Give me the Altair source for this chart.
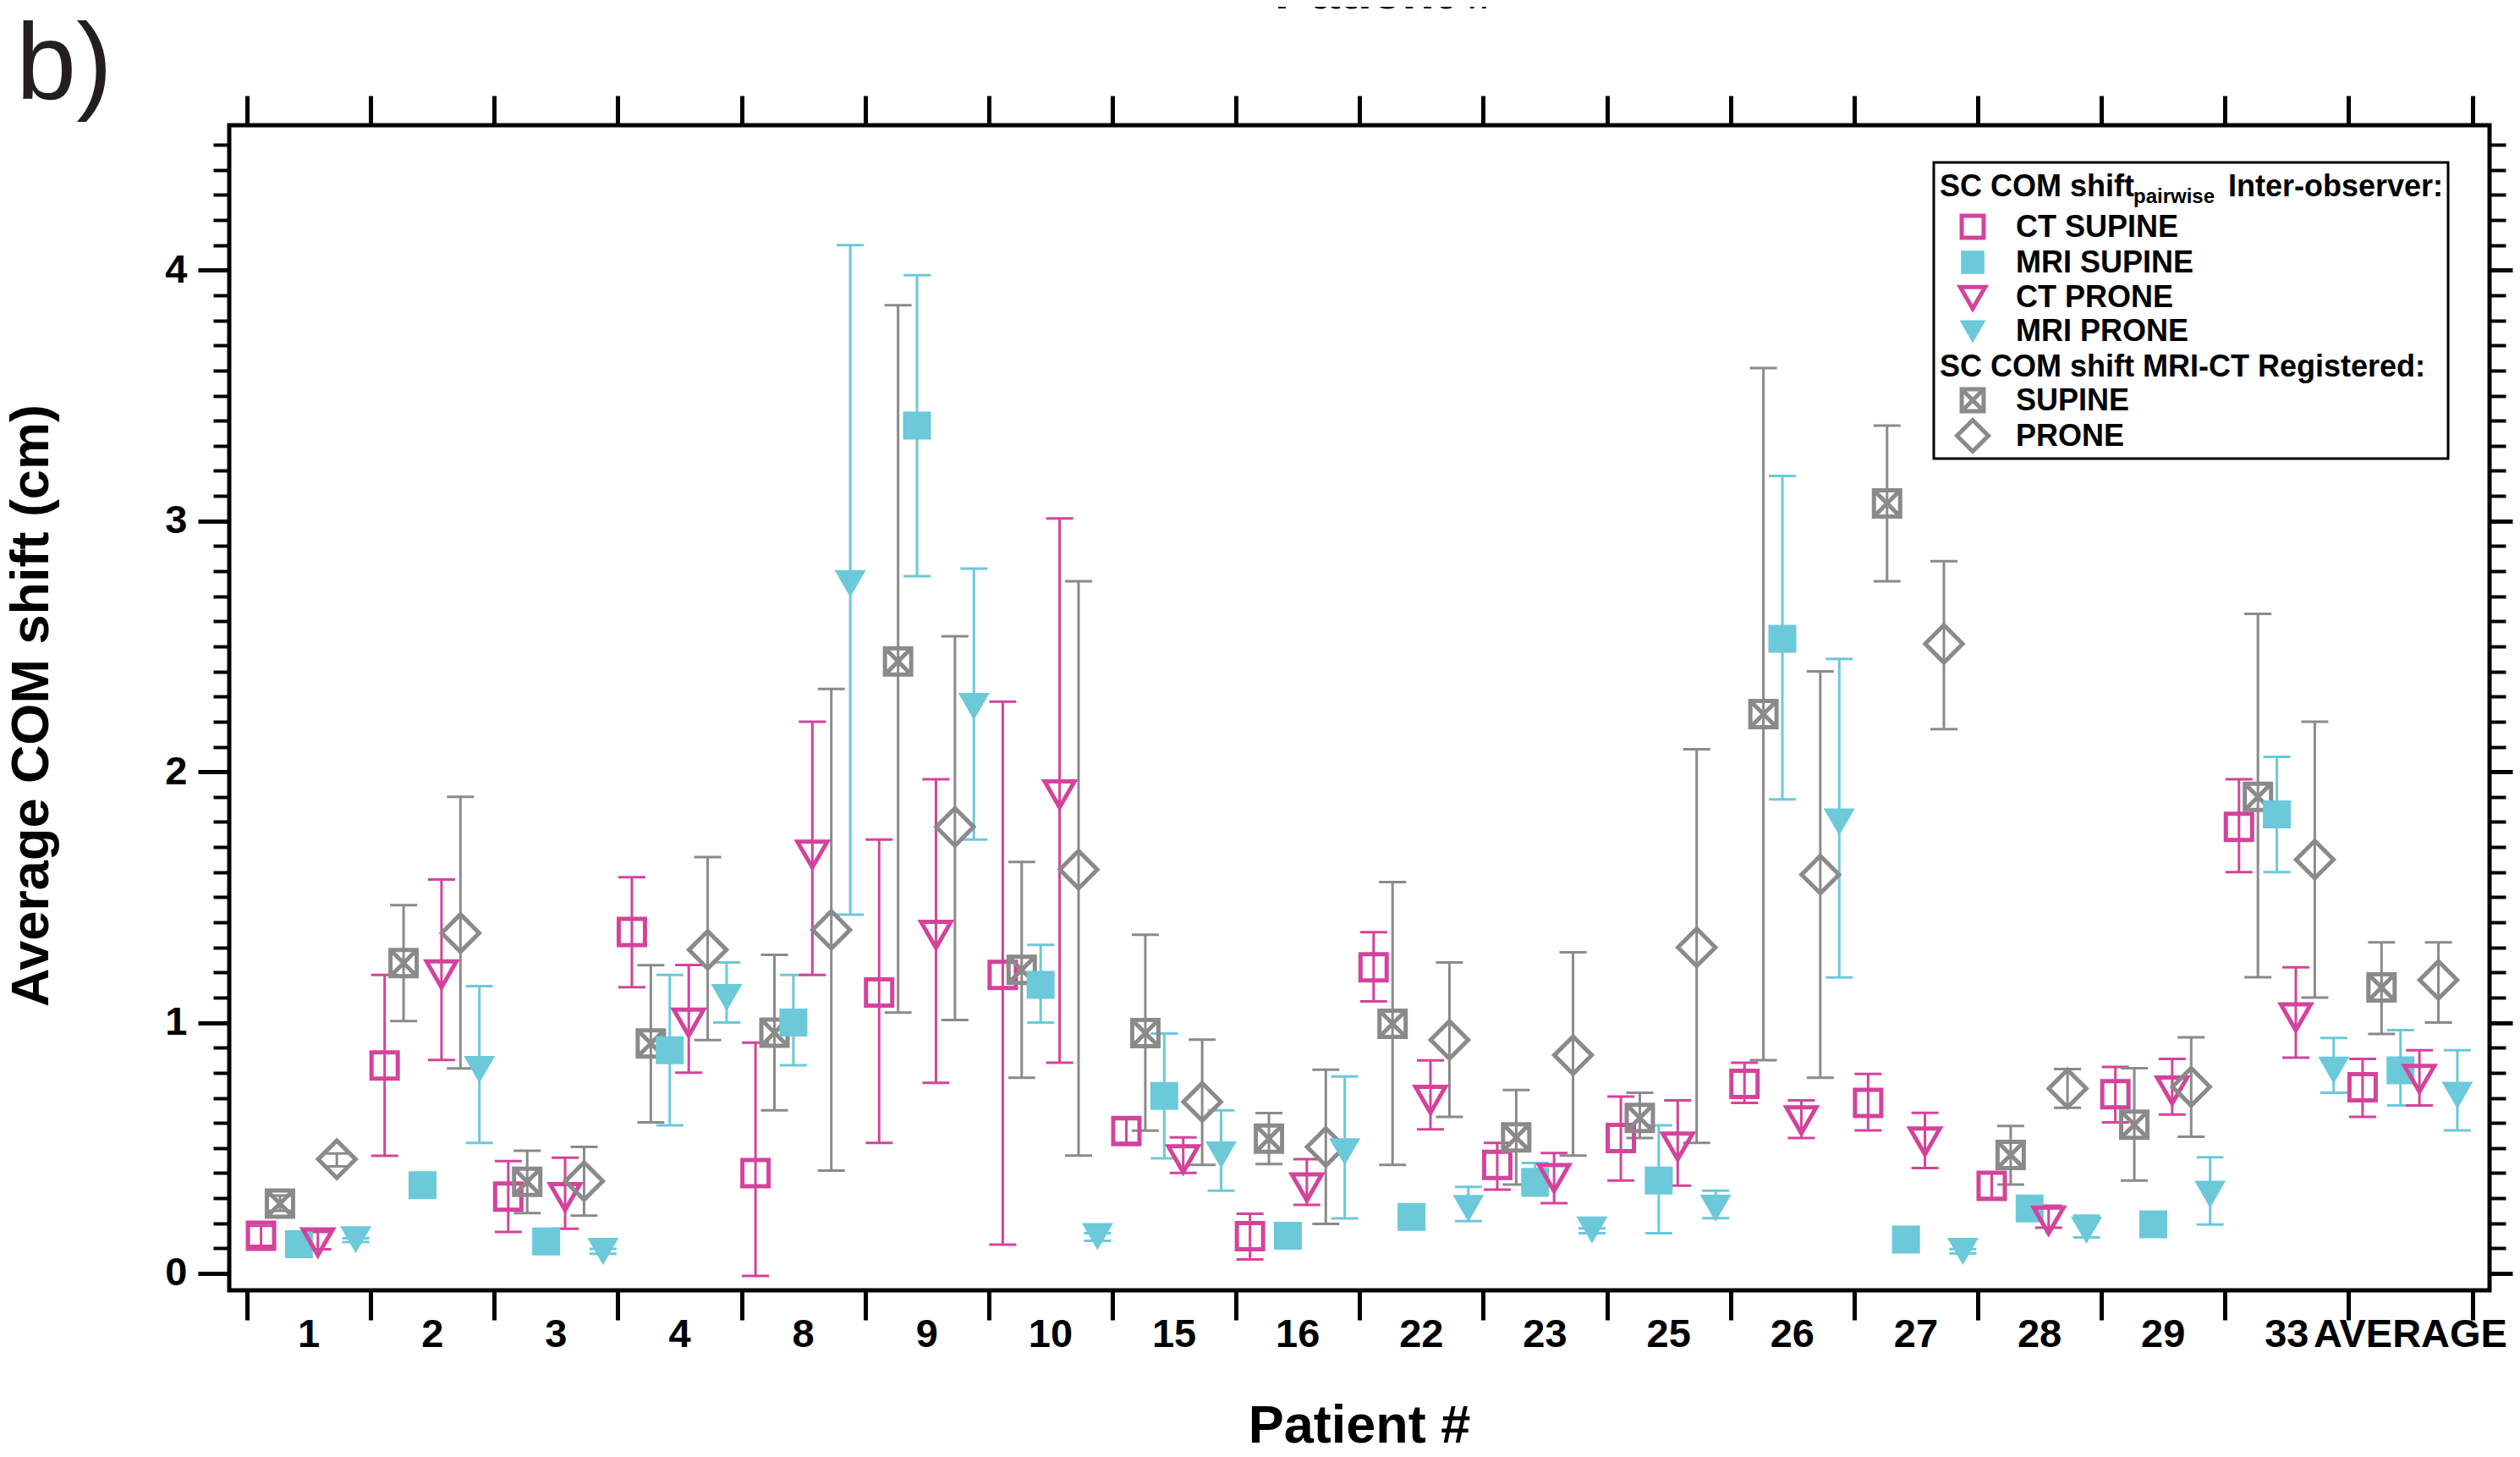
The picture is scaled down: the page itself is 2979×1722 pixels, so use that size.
import altair as alt
import pandas as pd

# ---------------- data ----------------
patients = ["1", "2", "3", "4", "8", "9", "10", "15", "16", "22", "23", "25",
            "26", "27", "28", "29", "33", "AVERAGE"]

# Inter-observer, CT SUPINE
ct_supine    = [0.150, 0.829, 0.306, 1.361, 0.40, 1.12, 1.19, 0.568, 0.148, 1.22, 0.433, 0.54, 0.756, 0.68, 0.349, 0.714, 1.78, 0.742]
ct_supine_lo = [0.11, 0.469, 0.165, 1.141, -0.01, 0.52, 0.115, 0.52, 0.056, 1.085, 0.334, 0.37, 0.68, 0.57, 0.30, 0.602, 1.60, 0.624]
ct_supine_hi = [0.19, 1.19, 0.448, 1.58, 0.92, 1.73, 2.28, 0.615, 0.238, 1.36, 0.520, 0.705, 0.84, 0.795, 0.40, 0.823, 1.97, 0.855]

# MRI-CT registered, SUPINE
reg_supine    = [0.278, 1.237, 0.365, 0.917, 0.96, 2.44, 1.21, 0.958, 0.537, 0.995, 0.542, 0.62, 2.23, 3.07, 0.472, 0.593, 1.90, 1.14]
reg_supine_lo = [0.25, 1.006, 0.240, 0.602, 0.65, 1.04, 0.78, 0.569, 0.436, 0.433, 0.354, 0.54, 0.85, 2.76, 0.354, 0.370, 1.181, 0.955]
reg_supine_hi = [0.31, 1.468, 0.489, 1.229, 1.27, 3.86, 1.64, 1.35, 0.639, 1.56, 0.731, 0.72, 3.61, 3.38, 0.588, 0.818, 2.63, 1.32]

# Inter-observer, MRI SUPINE (None = no error bar drawn)
mri_supine    = [0.116, 0.352, 0.127, 0.89, 1.0, 3.38, 1.15, 0.708, 0.150, 0.225, 0.365, 0.37, 2.53, 0.135, 0.259, 0.196, 1.83, 0.81]
mri_supine_lo = [None, None, None, 0.59, 0.83, 2.78, 1.0, 0.459, None, None, 0.31, 0.16, 1.89, None, None, None, 1.60, 0.67]
mri_supine_hi = [None, None, None, 1.19, 1.19, 3.98, 1.31, 0.956, None, None, 0.44, 0.59, 3.18, None, None, None, 2.06, 0.97]

# Inter-observer, CT PRONE
ct_prone    = [0.124, 1.192, 0.304, 1.0, 1.67, 1.35, 1.91, 0.455, 0.343, 0.692, 0.38, 0.506, 0.61, 0.526, 0.211, 0.729, 1.021, 0.776]
ct_prone_lo = [0.096, 0.851, 0.178, 0.80, 1.19, 0.76, 0.84, 0.401, 0.273, 0.574, 0.28, 0.35, 0.54, 0.42, 0.182, 0.633, 0.860, 0.67]
ct_prone_hi = [0.165, 1.57, 0.461, 1.23, 2.20, 1.97, 3.01, 0.542, 0.455, 0.849, 0.48, 0.69, 0.69, 0.64, 0.27, 0.855, 1.220, 0.89]

# MRI-CT registered, PRONE
reg_prone    = [0.455, 1.357, 0.368, 1.29, 1.37, 1.78, 1.61, 0.684, 0.504, 0.931, 0.87, 1.30, 1.59, 2.51, 0.737, 0.744, 1.65, 1.17]
reg_prone_lo = [0.427, 0.817, 0.230, 0.93, 0.41, 1.01, 0.47, 0.433, 0.197, 0.624, 0.47, 0.52, 0.78, 2.17, 0.660, 0.545, 1.10, 1.0]
reg_prone_hi = [0.478, 1.90, 0.504, 1.66, 2.33, 2.54, 2.76, 0.932, 0.812, 1.24, 1.28, 2.09, 2.40, 2.84, 0.815, 0.941, 2.20, 1.32]

# Inter-observer, MRI PRONE
mri_prone    = [0.134, 0.813, 0.088, 1.10, 2.75, 2.26, 0.147, 0.472, 0.485, 0.259, 0.173, 0.26, 1.80, 0.088, 0.172, 0.315, 0.810, 0.71]
mri_prone_lo = [0.125, 0.520, 0.078, 1.0, 1.43, 1.73, 0.13, 0.330, 0.219, 0.208, 0.16, 0.22, 1.18, 0.079, 0.143, 0.195, 0.720, 0.57]
mri_prone_hi = [0.14, 1.145, 0.098, 1.24, 4.10, 2.81, 0.16, 0.650, 0.785, 0.345, 0.18, 0.33, 2.45, 0.097, 0.230, 0.463, 0.939, 0.89]

y_major = [0, 1, 2, 3, 4]
y_minor = [round(i * 0.1, 1) for i in range(46)]

# ---------------- styling ----------------
PINK = "#d4439b"
CYAN = "#6bc9da"
GRAY = "#8a8a8a"
FONT = "Liberation Sans"
XBOX = "M-1,-1L1,-1L1,1L-1,1Z M-1,-1L1,1 M1,-1L-1,1"
SW = 5  # stroke width of hollow markers

W, H = 2672, 1377
SLOT0, SLOT_STEP = 0.113, 0.1533

series = [
    # name, values, lo, hi, color, shape, size, filled, slot
    ("CT SUPINE", ct_supine, ct_supine_lo, ct_supine_hi, PINK, "square", 961, False, 0),
    ("SUPINE", reg_supine, reg_supine_lo, reg_supine_hi, GRAY, XBOX, 961, False, 1),
    ("MRI SUPINE", mri_supine, mri_supine_lo, mri_supine_hi, CYAN, "square", 1089, True, 2),
    ("CT PRONE", ct_prone, ct_prone_lo, ct_prone_hi, PINK, "triangle-down", 1250, False, 3),
    ("PRONE", reg_prone, reg_prone_lo, reg_prone_hi, GRAY, "diamond", 1960, False, 4),
    ("MRI PRONE", mri_prone, mri_prone_lo, mri_prone_hi, CYAN, "triangle-down", 1370, True, 5),
]

xscale = alt.Scale(domain=[-0.144, 18.14], nice=False, zero=False)
yscale = alt.Scale(domain=[-0.0675, 4.578], nice=False, zero=False)

rows = []
for name, vals, lo, hi, color, shape, size, filled, slot in series:
    for g, p in enumerate(patients):
        rows.append({
            "series": name, "patient": p,
            "xpos": g + SLOT0 + SLOT_STEP * slot,
            "value": vals[g], "lo": lo[g], "hi": hi[g],
        })
df = pd.DataFrame(rows)

xdef = lambda f: alt.X(f, type="quantitative", scale=xscale, axis=None)
ydef = lambda f: alt.Y(f, type="quantitative", scale=yscale, axis=None)

layers = []

# axes carrier layers
ax_common = dict(grid=False, title=None, domain=False, tickColor="black", tickWidth=5)
axis_df = pd.DataFrame({"xb": list(range(19)) + [None] * (46 - 19), "v": y_minor})

base_axes = alt.Chart(axis_df).mark_point(opacity=0)
layers.append(base_axes.encode(
    x=alt.X("xb:Q", scale=xscale, axis=alt.Axis(orient="bottom", values=list(range(19)), labels=False, tickSize=35, **ax_common)),
    y=alt.Y("v:Q", scale=yscale, axis=alt.Axis(orient="left", values=y_major, tickSize=37, labelFont=FONT,
                                                labelFontSize=47, labelFontWeight="bold", labelColor="black",
                                                labelPadding=13, format="d", **ax_common)),
))
layers.append(base_axes.encode(
    x=alt.X("xb:Q", scale=xscale, axis=alt.Axis(orient="top", values=list(range(19)), labels=False, tickSize=35, **ax_common)),
    y=alt.Y("v:Q", scale=yscale, axis=alt.Axis(orient="left", values=y_minor, labels=False, tickSize=19,
                                                grid=False, title=None, domain=False, tickColor="black", tickWidth=4)),
))
layers.append(base_axes.encode(
    x=xdef("xb"),
    y=alt.Y("v:Q", scale=yscale, axis=alt.Axis(orient="right", values=y_major, labels=False, tickSize=27, **ax_common)),
))
layers.append(base_axes.encode(
    x=xdef("xb"),
    y=alt.Y("v:Q", scale=yscale, axis=alt.Axis(orient="right", values=y_minor, labels=False, tickSize=19,
                                                grid=False, title=None, domain=False, tickColor="black", tickWidth=4)),
))

# error bars
for name, vals, lo, hi, color, shape, size, filled, slot in series:
    sub = alt.Chart(df).transform_filter(f"datum.series === '{name}' && isValid(datum.lo)")
    layers.append(sub.mark_rule(color=color, strokeWidth=3).encode(x=xdef("xpos"), y=ydef("lo"), y2="hi:Q"))
    layers.append(sub.mark_tick(orient="horizontal", color=color, size=32, thickness=3, opacity=1).encode(x=xdef("xpos"), y=ydef("lo")))
    layers.append(sub.mark_tick(orient="horizontal", color=color, size=32, thickness=3, opacity=1).encode(x=xdef("xpos"), y=ydef("hi")))

# markers
for name, vals, lo, hi, color, shape, size, filled, slot in series:
    sub = alt.Chart(df).transform_filter(f"datum.series === '{name}'")
    if filled:
        mk = sub.mark_point(shape=shape, size=size, filled=True, fill=color, opacity=1, strokeWidth=0)
    else:
        mk = sub.mark_point(shape=shape, size=size, filled=False, stroke=color, fill=None, opacity=1,
                            strokeWidth=SW, strokeJoin="miter")
    layers.append(mk.encode(x=xdef("xpos"), y=ydef("value")))

# category labels under the x axis
lab_df = pd.DataFrame({"patient": patients, "xc": [g + 0.5 for g in range(len(patients))]})
layers.append(alt.Chart(lab_df).mark_text(font=FONT, fontSize=47, fontWeight="bold", color="black",
                                          align="center", baseline="alphabetic").encode(
    x=xdef("xc"), y=alt.value(1444), text="patient:N"))


def txt(text, x, y, size, weight="bold", align="left", angle=0, color="black"):
    d = pd.DataFrame({"t": [text]})
    return alt.Chart(d).mark_text(font=FONT, fontSize=size, fontWeight=weight, align=align,
                                  baseline="alphabetic", angle=angle, color=color).encode(
        x=alt.value(x), y=alt.value(y), text="t:N")


# titles
layers.append(txt("Patient #", W / 2, 1557, 63, align="center"))
layers.append(txt("Patient #", 1367, -138, 63, align="center"))
layers.append(txt("Average COM shift (cm)", -214, 686, 63, align="center", angle=270))
layers.append(txt("b)", -252, -31, 128, weight="normal", color="#231f20"))

# legend box
box_df = pd.DataFrame({"k": [0]})
layers.append(alt.Chart(box_df).mark_rect(fill="white", stroke="black", strokeWidth=3).encode(
    x=alt.value(2015), x2=alt.value(2623), y=alt.value(44), y2=alt.value(394)))

LX_T, LX_S, LX_L = 2022, 2061, 2112
LFS = 36
layers.append(txt("SC COM shift", LX_T, 84, LFS))
layers.append(txt("pairwise", 2251, 92, 24))
layers.append(txt("Inter-observer:", 2363, 84, LFS))
layers.append(txt("SC COM shift MRI-CT Registered:", LX_T, 297, LFS))

legend_rows = [
    ("CT SUPINE", 132, 120), ("MRI SUPINE", 174, 162), ("CT PRONE", 215, 204),
    ("MRI PRONE", 255, 244), ("SUPINE", 337, 325), ("PRONE", 379, 367),
]
style = {s[0]: s for s in series}
for name, ty, sy in legend_rows:
    _, _, _, _, color, shape, size, filled, _ = style[name]
    lsize = size * 0.7
    d = pd.DataFrame({"s": [name]})
    if filled:
        mk = alt.Chart(d).mark_point(shape=shape, size=lsize, filled=True, fill=color, opacity=1, strokeWidth=0)
    else:
        mk = alt.Chart(d).mark_point(shape=shape, size=lsize, filled=False, stroke=color, fill=None,
                                     opacity=1, strokeWidth=SW)
    layers.append(mk.encode(x=alt.value(LX_S), y=alt.value(sy)))
    layers.append(txt(name, LX_L, ty, LFS))

chart = alt.layer(*layers).resolve_axis(x="independent", y="independent").properties(
    width=W, height=H,
    autosize=alt.AutoSizeParams(type="none"),
    padding={"left": 263, "top": 140, "right": 28, "bottom": 189},
    background="white",
).configure_view(stroke="black", strokeWidth=5)

chart.save("out.html", embed_options={"renderer": "svg", "actions": False})
